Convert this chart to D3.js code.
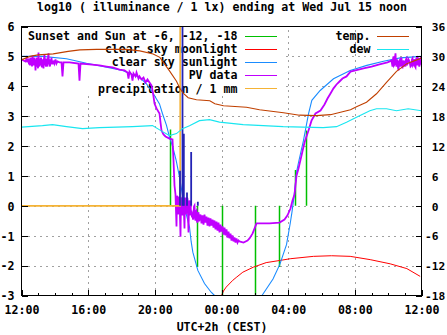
<!DOCTYPE html>
<html><head><meta charset="utf-8">
<script src="https://cdn.jsdelivr.net/npm/d3@7"></script>
<style>
html,body{margin:0;padding:0;background:#fff;}
svg{display:block;}
text{font-family:"DejaVu Sans Mono",monospace;font-weight:bold;font-size:11.6px;fill:#000;white-space:pre;}
</style></head><body>
<svg id="chart" width="447" height="335"></svg>
<script>
// ---------- data (hours after 12:00 noon, log10 lux / degC) ----------
const titleText = "log10 ( illuminance / 1 lx) ending at Wed Jul 15 noon";
const xAxisTitle = "UTC+2h (CEST)";
const xTickHours = [0, 4, 8, 12, 16, 20, 24];
const xTickLabels = ["12:00", "16:00", "20:00", "00:00", "04:00", "08:00", "12:00"];
const yTicks = [-3, -2, -1, 0, 1, 2, 3, 4, 5, 6];
const y2Ticks = [-18, -12, -6, 0, 6, 12, 18, 24, 30, 36];
const leftLegend = ["Sunset and Sun at -6, -12, -18", "clear sky moonlight", "clear sky sunlight", "PV data", "precipitation / 1 mm"];
const rightLegend = ["temp.", "dew"];

const sunEvents = [[8.92, 2.55], [10.52, -2.05], [12.02, -3.3], [14.0, -3.3], [15.44, -2.05], [16.42, 1.2], [17.08, 2.52]];

const moonlight = [[12.0, -3.0], [12.12, -2.85], [12.28, -2.72], [12.68, -2.49], [12.92, -2.38], [13.28, -2.22], [13.92, -2.05],
  [14.68, -1.9], [15.48, -1.83], [16.12, -1.77], [17.52, -1.69], [18.6, -1.67], [19.72, -1.69], [20.92, -1.8],
  [22.12, -1.94], [23.12, -2.1], [23.92, -2.36]];

const sunlight = [[0, 5.0], [1.26, 5.0], [2.7, 4.92], [3.9, 4.77], [5.1, 4.64], [6.06, 4.53], [7.08, 4.3], [7.5, 4.08],
  [7.86, 3.8], [8.28, 3.41], [8.46, 3.08], [8.7, 2.69], [8.88, 2.3], [9.08, 1.96], [9.28, 1.52], [9.48, 0.96],
  [9.68, 0.29], [9.88, -0.27], [10.08, -0.71], [10.18, -1.2], [10.28, -1.55], [10.58, -2.16], [10.98, -2.6],
  [11.38, -2.89], [11.58, -3.0], [12.0, null], [14.43, -3.0], [15.09, -2.45], [15.5, -1.96], [15.9, -1.3],
  [16.12, -0.6], [16.23, -0.2], [16.35, 0.3], [16.52, 1.18], [16.64, 1.5], [16.92, 2.19], [17.22, 3.08],
  [17.42, 3.53], [17.92, 3.86], [18.72, 4.25], [19.72, 4.53], [20.72, 4.7], [21.72, 4.84], [22.72, 4.95], [24, 5.0]];

const pvData = [[0, 4.90], [0.12, 4.86], [0.24, 4.83], [0.3, 4.93], [0.36, 4.80], [0.42, 4.93], [0.45, 4.73], [0.48, 4.86],
  [0.51, 4.70], [0.54, 4.96], [0.57, 4.76], [0.6, 4.90], [0.63, 4.66], [0.66, 5.03], [0.69, 4.80], [0.72, 4.70],
  [0.75, 4.96], [0.78, 4.73], [0.81, 4.90], [0.84, 4.53], [0.87, 4.86], [0.9, 4.96], [0.93, 4.66], [0.96, 4.83],
  [0.99, 4.60], [1.02, 5.13], [1.05, 4.76], [1.08, 4.66], [1.11, 4.93], [1.14, 4.70], [1.17, 4.96], [1.2, 4.80],
  [1.23, 4.63], [1.26, 4.90], [1.29, 4.73], [1.32, 4.60], [1.35, 4.93], [1.38, 5.06], [1.41, 4.70], [1.44, 4.86],
  [1.47, 4.66], [1.5, 4.93], [1.53, 4.76], [1.56, 4.66], [1.59, 4.96], [1.62, 5.10], [1.65, 4.73], [1.68, 4.83],
  [1.71, 4.66], [1.74, 4.90], [1.77, 4.73], [1.8, 4.96], [1.83, 4.76], [1.86, 4.86], [1.89, 4.73], [1.92, 4.86],
  [1.98, 4.76], [2.04, 4.90], [2.1, 4.76], [2.16, 4.83], [2.28, 4.80], [2.4, 4.80], [2.46, 4.33], [2.52, 4.80],
  [2.88, 4.80], [3.42, 4.76], [3.48, 4.19], [3.54, 4.76], [4.08, 4.73], [4.68, 4.70], [5.1, 4.66], [5.46, 4.63],
  [5.88, 4.56], [6.18, 4.53], [6.36, 4.46], [6.42, 4.26], [6.48, 4.49], [6.6, 4.39], [6.66, 4.19], [6.72, 4.43],
  [6.84, 4.33], [6.9, 4.46], [7.02, 4.26], [7.08, 4.33], [7.2, 4.23], [7.32, 4.29], [7.44, 4.13], [7.56, 4.23],
  [7.68, 4.13], [7.8, 4.03], [7.86, 3.86], [7.92, 3.66], [7.98, 3.42], [8.1, 3.26], [8.28, 3.09], [8.34, 2.79],
  [8.4, 2.52], [8.52, 2.39], [8.64, 2.32], [8.88, 2.25], [9.06, 2.22], [9.12, 1.52], [9.18, 0.68], [9.24, 0.38],
  [9.3, -0.69], [9.33, 0.34], [9.36, 0.24], [9.39, -0.29], [9.42, -0.16], [9.45, 0.31], [9.48, 0.21], [9.51, -0.36],
  [9.54, -1.03], [9.57, 0.28], [9.6, 0.18], [9.63, -0.22], [9.66, -0.32], [9.69, 0.31], [9.72, 0.24], [9.75, -0.26],
  [9.78, -0.76], [9.81, 0.28], [9.84, 0.11], [9.87, -0.29], [9.9, -0.02], [9.93, 0.28], [9.96, 0.24], [9.99, -0.29],
  [10.02, -0.89], [10.05, 0.18], [10.08, 0.01], [10.11, -0.32], [10.14, 0.18], [10.17, -0.29], [10.2, -0.16],
  [10.23, -0.39], [10.26, -0.22], [10.29, -0.46], [10.32, -0.29], [10.35, -0.02], [10.38, 0.01], [10.41, -0.42],
  [10.44, -0.49], [10.47, -0.19], [10.5, -0.16], [10.53, -0.52], [10.56, -0.56], [10.59, -0.26], [10.62, -0.22],
  [10.65, -0.52], [10.68, -0.46],
  [10.74, -0.29], [10.80, -0.59], [10.86, -0.32], [10.92, -0.63], [10.98, -0.29], [11.04, -0.56], [11.10, -0.36],
  [11.16, -0.66], [11.22, -0.39], [11.28, -0.69], [11.34, -0.42], [11.40, -0.66], [11.46, -0.46], [11.52, -0.73],
  [11.58, -0.49], [11.64, -0.79], [11.70, -0.53], [11.76, -0.83], [11.82, -0.56], [11.88, -0.89], [11.94, -0.63],
  [12.00, -0.86], [12.06, -0.69], [12.12, -0.96], [12.18, -0.73], [12.24, -0.99], [12.30, -0.79], [12.36, -1.06],
  [12.42, -0.86], [12.48, -1.09], [12.54, -0.93], [12.60, -1.16], [12.66, -0.99], [12.72, -1.19], [12.78, -1.06],
  [12.84, -1.23], [12.90, -1.09], [12.96, -1.23], [13.02, -1.16], [13.08, -1.19], [13.32, -1.23], [13.56, -1.16],
  [13.68, -1.09], [13.86, -0.93], [13.98, -0.76], [14.1, -0.59], [14.28, -0.59], [14.88, -0.59], [15.48, -0.56],
  [15.78, -0.46], [15.96, -0.32], [16.14, -0.09], [16.26, 0.18], [16.38, 0.38], [16.5, 1.01], [16.62, 1.25],
  [16.8, 1.68], [16.98, 2.12], [17.22, 2.52], [17.4, 2.85], [17.64, 3.09], [17.94, 3.19], [18.18, 3.39],
  [18.36, 3.59], [18.54, 3.76], [18.72, 3.93], [18.9, 4.06], [19.08, 4.16], [19.26, 4.26], [19.5, 4.33],
  [19.74, 4.49], [20.04, 4.53], [20.52, 4.60], [21.0, 4.66], [21.48, 4.73], [21.96, 4.80], [22.2, 4.86],
  [22.26, 4.66], [22.29, 4.90], [22.32, 5.00], [22.35, 4.70], [22.38, 4.73], [22.41, 4.96], [22.44, 5.10],
  [22.47, 4.76], [22.5, 4.66], [22.53, 4.90], [22.56, 4.80], [22.59, 4.63], [22.62, 4.53], [22.65, 4.83],
  [22.68, 4.86], [22.71, 4.66], [22.74, 4.73], [22.77, 4.93], [22.8, 4.93], [22.83, 4.70], [22.86, 4.60],
  [22.89, 4.86], [22.92, 4.80], [22.95, 4.66], [22.98, 4.86], [23.01, 4.73], [23.04, 4.66], [23.07, 4.90],
  [23.1, 4.93], [23.13, 4.70], [23.16, 4.76], [23.22, 4.90], [23.28, 4.83], [23.34, 4.66], [23.4, 4.70],
  [23.43, 4.90], [23.46, 4.93], [23.49, 4.70], [23.52, 4.73], [23.55, 4.90], [23.58, 4.86], [23.61, 4.66],
  [23.64, 4.63], [23.67, 4.90], [23.7, 4.93], [23.73, 4.70], [23.76, 4.76], [23.79, 4.93], [23.82, 4.90],
  [23.85, 4.70], [23.88, 4.66], [23.91, 4.90], [23.94, 4.93], [23.97, 4.73], [24, 4.80]];

const precipitation = [[0, 0], [9.52, 0], [9.52, 7]];
const rainBars = [[9.51, 1.17], [9.66, 7], [9.74, 2.41], [9.93, 0.45], [10.18, 1.8], [10.58, 0.14]];

const temperature = [[0, 29.3], [0.5, 30.0], [1.0, 30.3], [1.9, 30.5], [2.8, 31.0], [3.5, 31.3], [4.5, 31.4],
  [6.3, 31.4], [7.1, 31.1], [7.9, 30.5], [8.3, 29.8], [8.6, 28.4], [8.9, 27.0], [9.3, 25.0], [9.5, 23.6],
  [9.7, 22.6], [10.0, 21.7], [10.5, 21.3], [11.3, 21.1], [11.6, 20.5], [12.12, 20.1], [13.5, 19.8], [14.28, 19.3],
  [15.72, 18.7], [16.68, 18.2], [17.7, 18.1], [18.54, 18.3], [19.74, 19.3], [20.1, 19.9], [20.7, 20.8],
  [21.3, 22.5], [21.9, 24.8], [22.5, 27.0], [23.1, 28.5], [23.64, 29.2], [24, 29.7]];

const dewPoint = [[0, 15.8], [1.26, 16.1], [1.86, 16.3], [2.7, 15.9], [3.66, 15.5], [4.68, 15.7], [5.7, 15.8],
  [6.66, 15.9], [7.86, 16.1], [8.46, 14.9], [8.88, 14.1], [9.3, 14.5], [9.66, 15.5], [10.08, 16.1], [10.68, 17.1],
  [11.28, 17.3], [11.88, 16.8], [13.3, 16.3], [15.7, 15.9], [18.1, 15.7], [18.9, 15.9], [19.5, 16.8],
  [20.1, 17.8], [20.9, 19.1], [21.3, 19.5], [21.9, 19.5], [22.5, 19.1], [23.2, 19.5], [24, 19.1]];

// ---------- styles ----------
const C = {green: "#00c000", red: "#ff0000", blue: "#1a8cff", purple: "#c000ff", orange: "#f5b335",
  navy: "#2323b5", brown: "#c04000", cyan: "#19e6f0", grid: "#a0a0a0"};
const leftColors = [C.green, C.red, C.blue, C.purple, C.orange];
const rightColors = [C.brown, C.cyan];

const L = 21.5, R = 421.5, T = 26.5, B = 295.5;
const x = d3.scaleLinear().domain([0, 24]).range([L, R]);
const y = d3.scaleLinear().domain([-3, 6]).range([B, T]);
const y2 = d3.scaleLinear().domain([-18, 36]).range([B, T]);

const svg = d3.select("#chart");
svg.append("rect").attr("width", 447).attr("height", 335).attr("fill", "#fff");
svg.append("defs").append("clipPath").attr("id", "clip")
  .append("rect").attr("x", L).attr("y", T).attr("width", R - L).attr("height", B - T);

// titles
svg.append("text").attr("x", 222).attr("y", 11).attr("text-anchor", "middle").text(titleText);
svg.append("text").attr("x", 222).attr("y", 331).attr("text-anchor", "middle").text(xAxisTitle);

// grid
const grid = svg.append("g").attr("stroke", C.grid).attr("stroke-dasharray", "2,4").attr("shape-rendering", "crispEdges");
grid.selectAll("line.h").data(yTicks.slice(1, -1)).join("line").attr("class", "h")
  .attr("x1", L).attr("x2", R).attr("y1", d => Math.round(y(d)) + 0.5).attr("y2", d => Math.round(y(d)) + 0.5);
grid.selectAll("line.v").data(xTickHours.slice(1, -1)).join("line").attr("class", "v")
  .attr("y1", B).attr("y2", T).attr("x1", d => Math.round(x(d)) + 0.5).attr("x2", d => Math.round(x(d)) + 0.5);

// key (opaque background on the left part)
svg.append("rect").attr("x", 23).attr("y", 27).attr("width", 263).attr("height", 67).attr("fill", "#fff");
const key = svg.append("g");
leftLegend.forEach((t, i) => {
  const yy = 35.5 + 13.2 * i;
  key.append("text").attr("x", 237.5).attr("y", yy + 4.3).attr("text-anchor", "end").text(t);
  key.append("line").attr("x1", 245).attr("x2", 277).attr("y1", Math.round(yy) + 0.5).attr("y2", Math.round(yy) + 0.5)
    .attr("stroke", leftColors[i]).attr("stroke-width", 1);
});
rightLegend.forEach((t, i) => {
  const yy = 35.5 + 13.2 * i;
  key.append("text").attr("x", 370.5).attr("y", yy + 4.3).attr("text-anchor", "end").text(t);
  key.append("line").attr("x1", 377).attr("x2", 409).attr("y1", Math.round(yy) + 0.5).attr("y2", Math.round(yy) + 0.5)
    .attr("stroke", rightColors[i]).attr("stroke-width", 1);
});

// data
const plot = svg.append("g").attr("clip-path", "url(#clip)");
const lineY = d3.line().defined(d => d[1] != null).x(d => x(d[0])).y(d => y(d[1]));
const lineY2 = d3.line().defined(d => d[1] != null).x(d => x(d[0])).y(d => y2(d[1]));

plot.selectAll("line.sun").data(sunEvents).join("line").attr("class", "sun")
  .attr("x1", d => Math.round(x(d[0])) + 0.5).attr("x2", d => Math.round(x(d[0])) + 0.5)
  .attr("y1", y(0)).attr("y2", d => y(d[1])).attr("stroke", C.green).attr("stroke-width", 1.5);
plot.append("path").datum(moonlight).attr("d", lineY).attr("fill", "none").attr("stroke", C.red).attr("stroke-width", 1);
plot.append("path").datum(sunlight).attr("d", lineY).attr("fill", "none").attr("stroke", C.blue).attr("stroke-width", 1.1);
plot.append("path").datum(pvData).attr("d", lineY).attr("fill", "none").attr("stroke", C.purple).attr("stroke-width", 1.8);
plot.append("path").datum(precipitation).attr("d", lineY).attr("fill", "none").attr("stroke", C.orange).attr("stroke-width", 1.6);
plot.selectAll("line.rain").data(rainBars).join("line").attr("class", "rain")
  .attr("x1", d => x(d[0])).attr("x2", d => x(d[0]))
  .attr("y1", y(0)).attr("y2", d => y(d[1])).attr("stroke", C.navy).attr("stroke-width", 1.8);
plot.append("path").datum(temperature).attr("d", lineY2).attr("fill", "none").attr("stroke", C.brown).attr("stroke-width", 1.1);
plot.append("path").datum(dewPoint).attr("d", lineY2).attr("fill", "none").attr("stroke", C.cyan).attr("stroke-width", 1.1);

// axes
function styleAxis(g) {
  g.select(".domain").remove();
  g.selectAll(".tick line").attr("stroke", "#000").attr("shape-rendering", "crispEdges");
  g.attr("font-family", null).attr("font-size", null);
}
const gxMinor = svg.append("g").attr("transform", `translate(0,${B})`)
  .call(d3.axisBottom(x).tickValues(d3.range(0, 25, 1)).tickFormat("").tickSizeInner(-3).tickSizeOuter(0));
styleAxis(gxMinor);
const gx = svg.append("g").attr("transform", `translate(0,${B})`)
  .call(d3.axisBottom(x).tickValues(xTickHours).tickFormat((d, i) => xTickLabels[i]).tickSizeInner(-6).tickSizeOuter(0));
styleAxis(gx);
gx.selectAll(".tick text").attr("y", 18).attr("dy", 0).attr("fill", "#000");

const gy = svg.append("g").attr("transform", `translate(${L},0)`)
  .call(d3.axisLeft(y).tickValues(yTicks).tickFormat(d => String(d)).tickSizeInner(-6).tickSizeOuter(0));
styleAxis(gy);
gy.selectAll(".tick text").attr("x", 14.5 - L).attr("dy", 4.3).attr("text-anchor", "end").attr("fill", "#000");

const gy2 = svg.append("g").attr("transform", `translate(${R},0)`)
  .call(d3.axisRight(y2).tickValues(y2Ticks).tickFormat(d => (d < 0 ? "" : " ") + d).tickSizeInner(-6).tickSizeOuter(0));
styleAxis(gy2);
gy2.selectAll(".tick text").attr("x", 425 - R).attr("dy", 4.2).attr("text-anchor", "start")
  .attr("fill", "#000").style("font-size", "11.2px");

// border
svg.append("rect").attr("x", L).attr("y", T).attr("width", R - L).attr("height", B - T)
  .attr("fill", "none").attr("stroke", "#000").attr("stroke-width", 1).attr("shape-rendering", "crispEdges");
</script>
</body></html>
